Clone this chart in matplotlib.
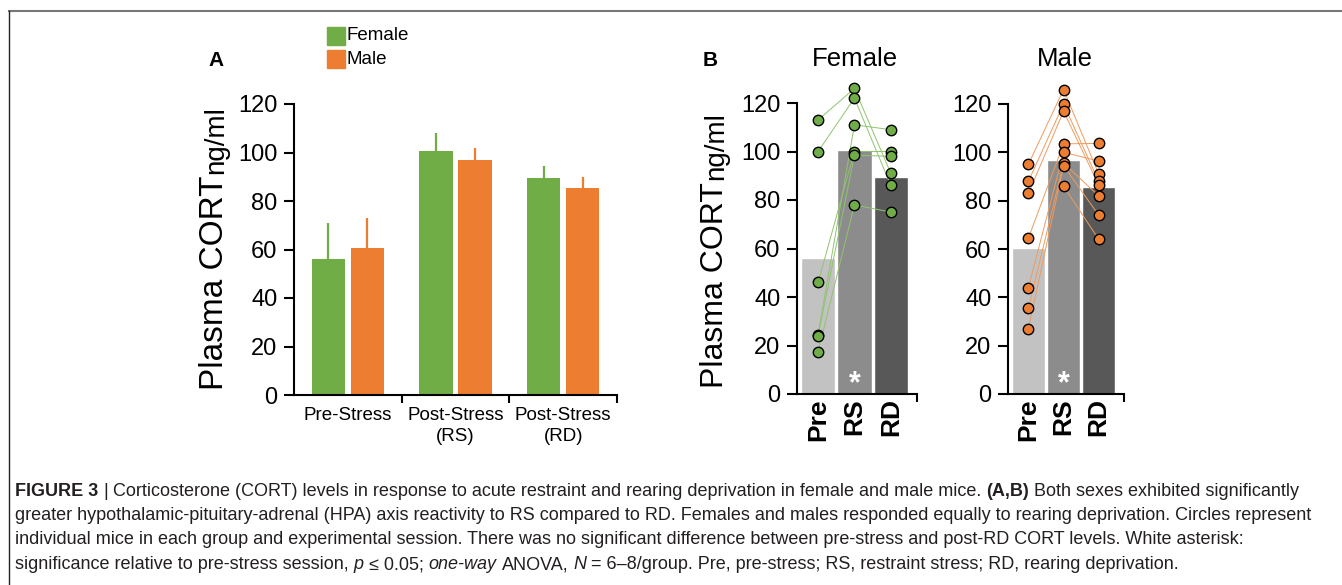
import numpy as np
import matplotlib
matplotlib.use("Agg")
import matplotlib.pyplot as plt
from matplotlib.lines import Line2D

plt.rcParams['font.family'] = ['Liberation Sans', 'DejaVu Sans']

W, H = 1342, 585

# ---- data ----
sessions = ['Pre-Stress', 'Post-Stress\n(RS)', 'Post-Stress\n(RD)']
short = ['Pre', 'RS', 'RD']
female_mean = [56, 100.5, 89.5]
female_sem = [15, 7.5, 5]
male_mean = [60.5, 97, 85.5]
male_sem = [12.5, 5, 4.5]

# individual mice (Pre, RS, RD)
female_pre = [113, 100, 46, 24.5, 24, 17.5]
female_rs = [126, 122, 100, 111, 98.5, 78]
female_rd = [91, 86, 100, 109, 98, 75]

male_pre = [95, 88, 83, 64.5, 44, 35.5, 27, np.nan]
male_rs = [126, 120, 117, 103.5, 100, 95.5, 94.5, 86]
male_rd = [91, 88, 86.5, 103.7, 96.4, 82, 74, 64]

GREEN = '#70AD47'
ORANGE = '#ED7D31'
GREYS = ['#C2C2C2', '#8C8C8C', '#585858']


def px_axes(x0, y0, x1, y1):
    # pixel box (top-left origin) -> figure axes
    return fig.add_axes([x0 / W, 1 - y1 / H, (x1 - x0) / W, (y1 - y0) / H])


def ylab(ax_x, y_bottom, big=23, small=20):
    r = fig.canvas.get_renderer()
    t = fig.text(ax_x / W, 1 - y_bottom / H, 'Plasma CORT', rotation=90,
                 rotation_mode='anchor', ha='left', va='baseline', fontsize=big)
    bb = t.get_window_extent(renderer=r)
    fig.text(ax_x / W, bb.y1 / (H) + 2 / H, 'ng/ml', rotation=90,
             rotation_mode='anchor', ha='left', va='baseline', fontsize=small)


fig = plt.figure(figsize=(W / 100, H / 100), dpi=100)

# frame lines
fig.add_artist(Line2D([9 / W, 1], [1 - 11 / H, 1 - 11 / H], color='#777777', lw=1.5))
fig.add_artist(Line2D([9 / W, 9 / W], [0, 1 - 11 / H], color='#222222', lw=1))

# ---- panel A ----
axA = px_axes(294, 104, 617, 395)
x = np.arange(3)
bw = 0.31
off = 0.18
axA.bar(x - off, female_mean, bw, color=GREEN, zorder=2)
axA.bar(x + off, male_mean, bw, color=ORANGE, zorder=2)
axA.errorbar(x - off, female_mean, yerr=[np.zeros(3), female_sem], fmt='none',
             ecolor=GREEN, elinewidth=1.6, capsize=0, zorder=1)
axA.errorbar(x + off, male_mean, yerr=[np.zeros(3), male_sem], fmt='none',
             ecolor=ORANGE, elinewidth=1.6, capsize=0, zorder=1)
axA.set_xlim(-0.5, 2.5)
axA.set_ylim(0, 120)
axA.set_yticks(range(0, 121, 20))
axA.set_xticks(x)
axA.set_xticklabels(sessions, fontsize=13.5, linespacing=1.3)
axA.set_xticks([0.5, 1.5, 2.5], minor=True)
axA.tick_params(axis='x', which='major', length=0, pad=9)
axA.tick_params(axis='x', which='minor', length=6, width=1.5, direction='out')
axA.tick_params(axis='y', labelsize=17, length=7, width=1.5, pad=5)
for s in ['top', 'right']:
    axA.spines[s].set_visible(False)
for s in ['left', 'bottom']:
    axA.spines[s].set_linewidth(1.5)

fig.text(216 / W, 1 - 60 / H, 'A', fontsize=15, fontweight='bold', ha='center', va='center')
# legend
for i, (lab, c) in enumerate([('Female', GREEN), ('Male', ORANGE)]):
    yc = 36 + i * 23
    fig.patches.append(plt.Rectangle((327 / W, 1 - (yc + 9) / H), 18 / W, 18 / H,
                                     color=c, transform=fig.transFigure, figure=fig))
    fig.text(347 / W, 1 - yc / H, lab, fontsize=13.5, ha='left', va='center')

ylab(223, 390, big=24, small=20)

# ---- panel B ----
def panel_b(box, mean, pre, rs, rd, col, lcol, title, tx):
    ax = px_axes(*box)
    ax.bar(x, mean, 0.95, color=GREYS, edgecolor='white', linewidth=1, zorder=1)
    pts = np.array([pre, rs, rd], dtype=float)
    for j in range(pts.shape[1]):
        ax.plot(x, pts[:, j], color=lcol, lw=0.7, zorder=2, clip_on=False)
    for k in range(3):
        ax.plot(np.full(pts.shape[1], x[k]), pts[k], 'o', ms=7.5, mfc=col, mec='black',
                mew=1, zorder=3, clip_on=False, ls='none')
    ax.text(1, 4, '*', color='white', fontsize=22, fontweight='bold', ha='center', va='center')
    ax.set_xlim(-0.58, 2.72)
    ax.set_ylim(0, 120)
    ax.set_yticks(range(0, 121, 20))
    ax.set_xticks(x)
    ax.set_xticklabels(short, rotation=90, fontsize=19, fontweight='bold')
    ax.set_xticks([2.72], minor=True)
    ax.tick_params(axis='x', which='major', length=0, pad=3)
    ax.tick_params(axis='x', which='minor', length=6, width=1.5)
    ax.tick_params(axis='y', labelsize=17, length=7, width=1.5, pad=5)
    for s in ['top', 'right']:
        ax.spines[s].set_visible(False)
    for s in ['left', 'bottom']:
        ax.spines[s].set_linewidth(1.5)
    fig.text(tx / W, 1 - 59 / H, title, fontsize=18.5, ha='center', va='center')
    return ax


panel_b((797, 103, 917, 394), female_mean, female_pre, female_rs, female_rd,
        GREEN, '#8FC46E', 'Female', 855)
panel_b((1008, 104, 1124, 394), male_mean, male_pre, male_rs, male_rd,
        ORANGE, '#F09A5E', 'Male', 1065)
fig.text(710 / W, 1 - 60 / H, 'B', fontsize=15, fontweight='bold', ha='center', va='center')
ylab(723, 388, big=23, small=20)

# ---- caption ----
cap_fs = 13
cap_col = '#231F20'
caption = [
    [('FIGURE 3', 'b'), ('|', 'n'), ('Corticosterone (CORT) levels in response to acute restraint and '
                                     'rearing deprivation in female and male mice.', 'n'),
     ('(A,B)', 'b'), ('Both sexes exhibited significantly', 'n')],
    [('greater hypothalamic-pituitary-adrenal (HPA) axis reactivity to RS compared to RD. Females and '
      'males responded equally to rearing deprivation. Circles represent', 'n')],
    [('individual mice in each group and experimental session. There was no significant difference '
      'between pre-stress and post-RD CORT levels. White asterisk:', 'n')],
    [('significance relative to pre-stress session,', 'n'), ('p', 'i'), ('\u2264 0.05;', 'n'),
     ('one-way', 'i'), ('ANOVA,', 'n'), ('N', 'i'),
     ('= 6\u20138/group. Pre, pre-stress; RS, restraint stress; RD, rearing deprivation.', 'n')],
]
r = fig.canvas.get_renderer()
space = 0.278 * cap_fs * 100 / 72
for li, line in enumerate(caption):
    xp = 15
    yp = 491 + li * 24.5
    for txt, st in line:
        kw = {}
        if st == 'b':
            kw['fontweight'] = 'bold'
        if st == 'i':
            kw['fontstyle'] = 'italic'
        t = fig.text(xp / W, 1 - yp / H, txt, fontsize=cap_fs, color=cap_col,
                     ha='left', va='center', **kw)
        bb = t.get_window_extent(renderer=r)
        xp += bb.width + space

fig.savefig('out.png', dpi=100)
